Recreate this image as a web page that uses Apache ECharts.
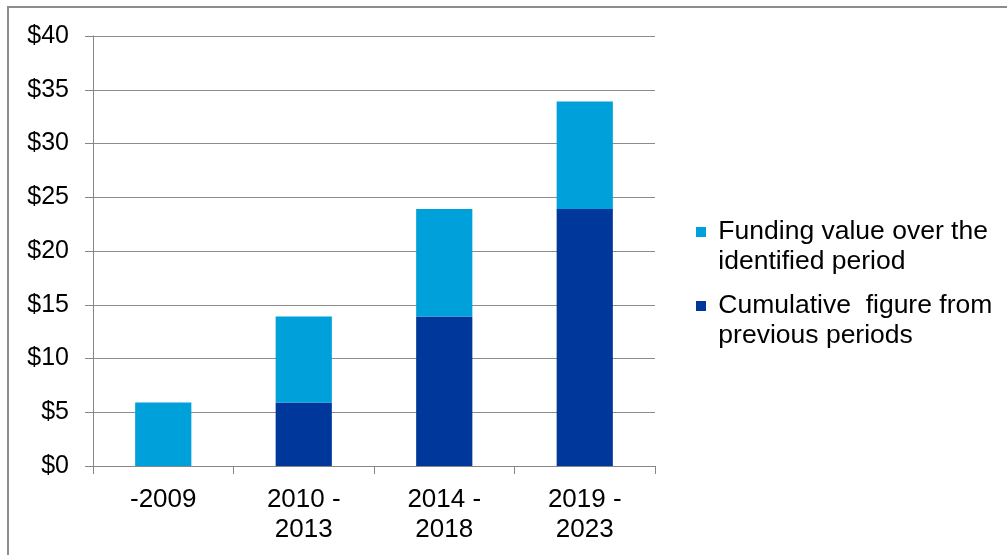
<!DOCTYPE html>
<html>
<head>
<meta charset="utf-8">
<script src="https://cdn.jsdelivr.net/npm/echarts@6/dist/echarts.min.js"></script>
<style>
    html, body { margin: 0; padding: 0; background: #fff; }
    #frame { position: absolute; left: 7px; top: 6px; width: 1100px; height: 700px;
             border-left: 2px solid #8c8c8c; border-top: 2px solid #8c8c8c; }
    #myChart { position: absolute; left: 0; top: 0; width: 1007px; height: 555px; }
</style>
</head>
<body>
<div id="frame"></div>
<div id="myChart"></div>
<script>
// 数据
var periods = ['-2009', '2010 -\n2013', '2014 -\n2018', '2019 -\n2023'];
var cumulative = [0, 5.9, 13.9, 23.9];
var funding = [5.9, 8, 10, 10];
var yTicks = [0, 5, 10, 15, 20, 25, 30, 35, 40];

var nameFunding = 'Funding value over the\nidentified period';
var nameCumulative = 'Cumulative  figure from\nprevious periods';

var myChart = echarts.init(document.getElementById('myChart'));
myChart.setOption({
    animation: false,
    textStyle: {fontFamily: 'Liberation Sans, Arial, sans-serif'},
    grid: {left: 93, top: 36, right: 352, bottom: 89},
    legend: {
        orient: 'vertical',
        left: 696,
        top: 187,
        padding: 0,
        itemWidth: 10,
        itemHeight: 10,
        itemGap: -16,
        icon: 'rect',
        data: [nameFunding, nameCumulative],
        // 空行放在前面，让图标对齐第一行
        formatter: function (name) {
            return ' \n' + name.split('\n').map(function (s) { return ' ' + s; }).join('\n');
        },
        textStyle: {
            fontSize: 26.5,
            color: '#000',
            lineHeight: 30
        }
    },
    xAxis: {
        type: 'category',
        data: periods,
        axisLine: {lineStyle: {color: '#868686', width: 1}},
        axisTick: {show: true, length: 8, lineStyle: {color: '#868686'}},
        axisLabel: {fontSize: 26, color: '#000', lineHeight: 30, margin: 19, interval: 0}
    },
    yAxis: {
        type: 'value',
        min: yTicks[0],
        max: yTicks[yTicks.length - 1],
        interval: 5,
        axisLine: {show: true, lineStyle: {color: '#868686', width: 1}},
        axisTick: {show: true, length: 8, lineStyle: {color: '#868686'}},
        axisLabel: {fontSize: 25, color: '#000', margin: 24, formatter: '${value}'},
        splitLine: {lineStyle: {color: '#8c8c8c', width: 1}}
    },
    series: [
        {
            name: nameCumulative,
            type: 'bar',
            stack: 'total',
            barWidth: '40%',
            itemStyle: {color: '#00379b'},
            data: cumulative
        },
        {
            name: nameFunding,
            type: 'bar',
            stack: 'total',
            barWidth: '40%',
            itemStyle: {color: '#00a0da'},
            data: funding
        }
    ]
});
</script>
</body>
</html>
